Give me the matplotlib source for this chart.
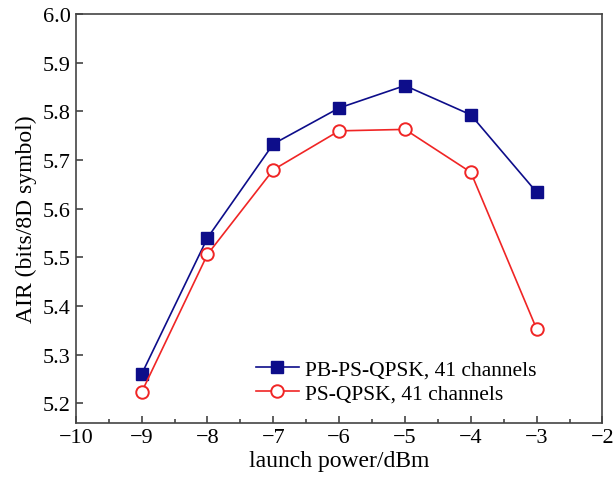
import matplotlib.pyplot as plt
from matplotlib.ticker import MultipleLocator

plt.rcParams['font.family'] = ['Liberation Serif', 'DejaVu Serif']

# Data
power = [-9, -8, -7, -6, -5, -4, -3]
air_pb = [5.260, 5.540, 5.733, 5.807, 5.853, 5.793, 5.634]
air_ps = [5.223, 5.506, 5.680, 5.760, 5.763, 5.675, 5.353]

fig, ax = plt.subplots(figsize=(6.16, 4.85), dpi=100)
fig.subplots_adjust(left=0.123, right=0.978, top=0.969, bottom=0.126)

ax.plot(power, air_pb, color='#0d0d8a', marker='s', markersize=9, lw=1.2,
        label='PB-PS-QPSK, 41 channels')
ax.plot(power, air_ps, color='#f02525', marker='o', markersize=9, lw=1.2,
        markerfacecolor='white', markeredgewidth=1.4, label='PS-QPSK, 41 channels')

ax.set_xlim(-10, -2)
ax.set_ylim(5.16, 6.0)
ax.xaxis.set_major_locator(MultipleLocator(1))
ax.xaxis.set_minor_locator(MultipleLocator(0.5))
ax.yaxis.set_major_locator(MultipleLocator(0.1))
ax.yaxis.set_major_formatter(plt.FormatStrFormatter('%.1f'))
ax.tick_params(direction='in', labelsize=16, length=5, width=1.2, color='#444444')
ax.tick_params(which='minor', direction='in', length=3, width=1.2, color='#444444')
for s in ax.spines.values():
    s.set_linewidth(1.2)
    s.set_color('#444444')

ax.set_xlabel('launch power/dBm', fontsize=17, labelpad=2)
ax.set_ylabel('AIR (bits/8D symbol)', fontsize=17, labelpad=4)
ax.legend(loc='lower left', bbox_to_anchor=(0.305, 0.0), frameon=False,
          fontsize=15.5, handlelength=2.0, handletextpad=0.3, labelspacing=0.2)

plt.savefig('out.png')
